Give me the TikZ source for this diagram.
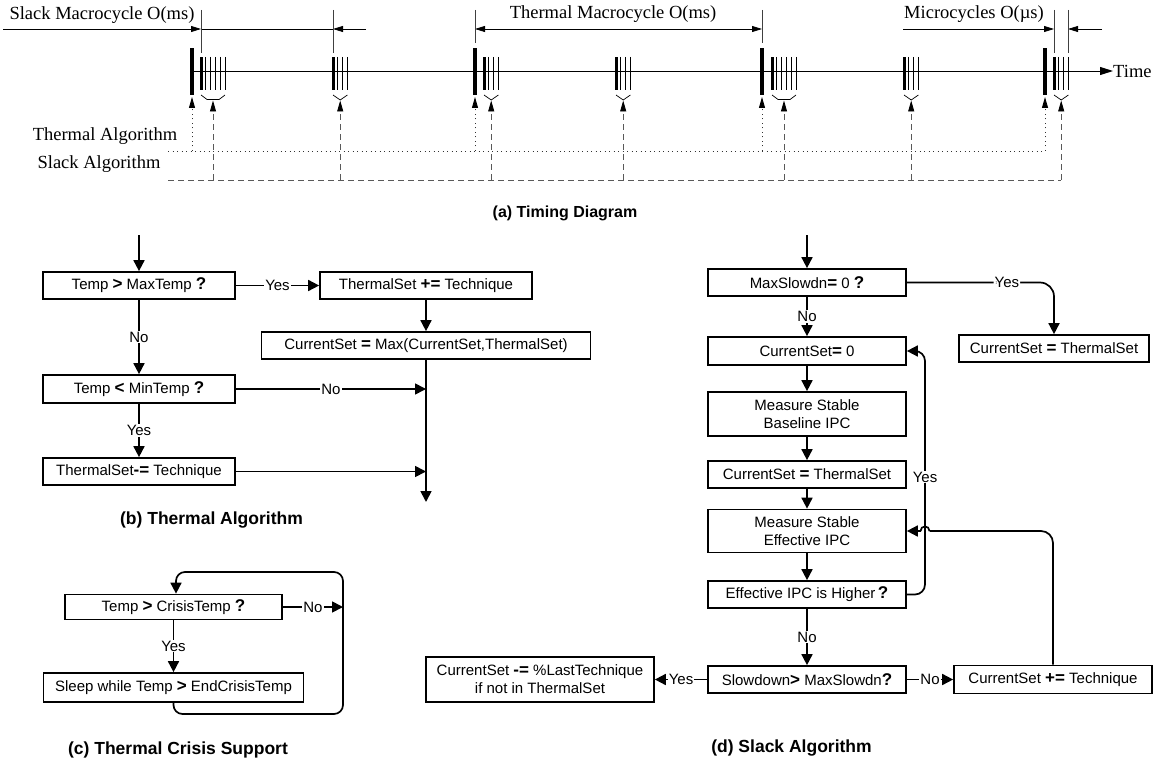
\documentclass[tikz,border=0pt]{standalone}
\usepackage{fontspec}
\setmainfont{Liberation Serif}
\newfontfamily\arialfam{Liberation Sans}
\usetikzlibrary{arrows.meta}
\newcommand\flowfont{\arialfam\fontsize{15}{18}\selectfont}
\newcommand\capfont{\arialfam\bfseries\fontsize{17.5}{20}\selectfont}
\newcommand\capafont{\arialfam\bfseries\fontsize{16}{19}\selectfont}
\newcommand\timefont{\fontsize{18.5}{22}\selectfont}
\newcommand\bsym[1]{\textbf{\fontsize{17}{18}\selectfont #1}}
\begin{document}
\begin{tikzpicture}[x=1pt,y=-1pt,
  box/.style={draw, line width=1.7pt, inner sep=0pt, align=center, font=\flowfont},
  lbl/.style={fill=white, inner sep=1pt, font=\flowfont},
  ln/.style={line width=1.7pt},
  arr/.style={line width=1.7pt, -{Triangle[length=11pt,width=11pt]}},
  capt/.style={font=\capfont, inner sep=0pt},
  ttxt/.style={font=\timefont, inner sep=0pt},
  tick/.style={line width=0.7pt, black!75},
  dimarr/.style={line width=0.8pt, -{Triangle[length=10pt,width=6pt]}},
  slackln/.style={line width=0.9pt, black!65, dash pattern=on 6pt off 4pt},
  thermln/.style={line width=0.9pt, black!80, dash pattern=on 1pt off 3.5pt},
  uparr/.style={-{Triangle[length=11pt,width=6pt,color=black]}}
]
\useasboundingbox (0,0) rectangle (1158,762);

% ---------------- (a) Timing diagram ----------------
\node[ttxt] (slackt) at (102,15.5) {Slack Macrocycle O(ms)};
\draw[dimarr] (3,29) -- (201,29);
\draw[line width=0.8pt] (201,29) -- (333,29);
\draw[dimarr] (366,29) -- (333,29);
\draw[tick] (201,10) -- (201,53);
\draw[tick] (333,10) -- (333,53);

\node[ttxt] (thermt) at (613,14) {Thermal Macrocycle O(ms)};
\draw[line width=0.8pt, {Triangle[length=10pt,width=6pt]}-{Triangle[length=10pt,width=6pt]}] (475,29) -- (762,29);
\draw[tick] (475,10) -- (475,43);
\draw[tick] (762,10) -- (762,43);

\node[ttxt] (microt) at (974,14) {Microcycles O(µs)};
\draw[dimarr] (903,29) -- (1054,29);
\draw[dimarr] (1102,29) -- (1068,29);
\draw[tick] (1054,10) -- (1054,53);
\draw[tick] (1068,10) -- (1068,53);

\node[ttxt, anchor=west] (timet) at (1113,71) {Time};
\draw[line width=0.9pt, -{Triangle[length=13pt,width=8pt]}] (192,71) -- (timet.west);

\foreach \x in {192,475,762,1045} {
  \fill (\x-1.6,48) rectangle (\x+1.6,95);
}
\foreach \x/\n in {201/5,333/3,484/3,616/3,772/5,904/3,1054/3} {
  \fill (\x-1.5,57) rectangle (\x+1.5,90);
  \foreach \i in {1,...,\n} {
    \draw[line width=0.7pt] (\x+4.8*\i,57) -- (\x+4.8*\i,90);
  }
}
\foreach \x in {201,772} {
  \draw[line width=0.7pt] (\x,95) -- (\x+6,99.5) -- (\x+18,99.5) -- (\x+24,95);
}
\foreach \x in {333,484,616,904,1054} {
  \draw[line width=0.7pt] (\x,95) -- (\x+7.2,100) -- (\x+14.4,95);
}

\node[ttxt] (thalg) at (105,136) {Thermal Algorithm};
\node[ttxt] (slalg) at (99,164) {Slack Algorithm};
\draw[thermln] (168,151) -- (1045,151);
\foreach \x in {192,475,762,1045} {
  \draw[thermln, uparr] (\x,151) -- (\x,97);
}
\draw[slackln] (168,180) -- (1061.2,180);
\foreach \x in {213,340.2,491.2,623.2,784,911.2,1061.2} {
  \draw[slackln, uparr] (\x,180) -- (\x,100.5);
}
\node[capt, font=\capafont] (capa) at (565,213) {(a) Timing Diagram};

% ---------------- (b) Thermal algorithm ----------------
\coordinate (bin) at (139,235);
\node[box, minimum width=192pt, minimum height=27pt] (b1) at (139,285.5) {Temp \bsym{>} MaxTemp \bsym{?}};
\node[box, minimum width=212pt, minimum height=27pt] (b2) at (426,285.5) {ThermalSet \bsym{+=} Technique};
\node[box, minimum width=329pt, minimum height=27pt] (b3) at (426,345.5) {CurrentSet \bsym{=} Max(CurrentSet,ThermalSet)};
\node[box, minimum width=192pt, minimum height=28pt] (b4) at (139,389) {Temp \bsym{<} MinTemp \bsym{?}};
\node[box, minimum width=192pt, minimum height=27pt] (b5) at (139,471.5) {ThermalSet\bsym{-=} Technique};
\coordinate (bend) at (426,502);
\draw[arr] (bin) -- (b1);
\draw[arr] (b1) -- node[lbl]{Yes} (b2);
\draw[arr] (b2) -- (b3);
\draw[arr] (b3) -- (bend);
\draw[arr] (b1) -- node[lbl]{No} (b4);
\draw[arr] (b4.east) -- node[lbl]{No} (b4.east -| bend);
\draw[arr] (b4) -- node[lbl]{Yes} (b5);
\draw[arr] (b5.east) -- (b5.east -| bend);
\node[capt] (capb) at (211.5,520) {(b) Thermal Algorithm};

% ---------------- (c) Thermal crisis support ----------------
\node[box, minimum width=217pt, minimum height=25pt] (c1) at (173.5,607) {Temp \bsym{>} CrisisTemp \bsym{?}};
\node[box, minimum width=260pt, minimum height=29pt] (c2) at (173.5,687.5) {Sleep while Temp \bsym{>} EndCrisisTemp};
\coordinate (cr) at (343,607);
\coordinate (cb) at (343,714);
\coordinate (ct) at (343,572);
\draw[arr] (c1) -- node[lbl]{Yes} (c2);
\draw[arr] (c1.east) -- node[lbl]{No} (cr);
\draw[arr, rounded corners=9pt] (c2.south) |- (cb) -- (ct) -| ([xshift=2.5pt]c1.north);
\node[capt] (capc) at (178,750) {(c) Thermal Crisis Support};

% ---------------- (d) Slack algorithm ----------------
\coordinate (din) at (807,235);
\node[box, minimum width=198pt, minimum height=27pt] (dA) at (807,282.5) {MaxSlowdn\bsym{=} 0 \bsym{?}};
\node[box, minimum width=190pt, minimum height=27pt] (dB) at (1054,348.5) {CurrentSet \bsym{=} ThermalSet};
\node[box, minimum width=198pt, minimum height=28pt] (dC) at (807,351) {CurrentSet\bsym{=} 0};
\node[box, minimum width=198pt, minimum height=44pt] (dD) at (807,414) {Measure Stable\\Baseline IPC};
\node[box, minimum width=198pt, minimum height=27pt] (dE) at (807,474.5) {CurrentSet \bsym{=} ThermalSet};
\node[box, minimum width=198pt, minimum height=43pt] (dF) at (807,531) {Measure Stable\\Effective IPC};
\node[box, minimum width=198pt, minimum height=27pt] (dG) at (807,594.5) {Effective IPC is Higher\,\bsym{?}};
\node[box, minimum width=198pt, minimum height=27pt] (dH) at (807,679.5) {Slowdown\bsym{>} MaxSlowdn\bsym{?}};
\node[box, minimum width=198pt, minimum height=28pt] (dI) at (1053,679.5) {CurrentSet \bsym{+=} Technique};
\node[box, minimum width=228pt, minimum height=45pt] (dJ) at (540,679.5) {CurrentSet \bsym{-=} \%LastTechnique\\if not in ThermalSet};

\draw[arr] (din) -- (dA);
\draw[arr, rounded corners=14pt] (dA.east) -- node[lbl, pos=0.68]{Yes} (dA.east -| dB) -- (dB.north);
\draw[arr] (dA) -- node[lbl]{No} (dC);
\draw[arr] (dC) -- (dD);
\draw[arr] (dD) -- (dE);
\draw[arr] (dE) -- (dF);
\draw[arr] (dF) -- (dG);
\draw[arr] (dG) -- node[lbl]{No} (dH);
\draw[arr] (dH) -- node[lbl]{No} (dI);
\draw[arr] (dH) -- node[lbl]{Yes} (dJ);
\coordinate (yc) at (925,351);
\draw[arr, rounded corners=10pt] (dG.east) -| (yc) -- (dC.east);
\node[lbl] (yesl) at (925,477) {Yes};
\coordinate (hopr) at (929.5,531);
\coordinate (hopl) at (920.5,531);
\draw[ln, rounded corners=12pt] (dI.north) |- (hopr);
\draw[ln] (hopr) .. controls (929.5,525) and (920.5,525) .. (hopl);
\draw[arr] (hopl) -- (dF.east);
\node[capt] (capd) at (791.5,748) {(d) Slack Algorithm};
\end{tikzpicture}
\end{document}
